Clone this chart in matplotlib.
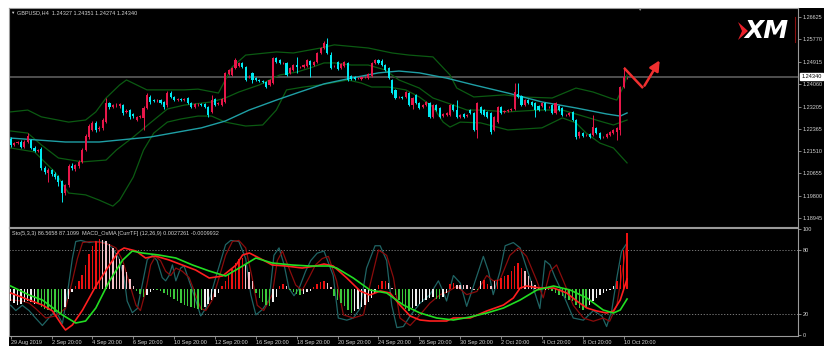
import matplotlib
matplotlib.use("Agg")
import matplotlib.pyplot as plt
from matplotlib.patches import Rectangle, Polygon
from matplotlib.transforms import blended_transform_factory
import numpy as np

# ---------------- data ----------------
OPEN = [1.2197,1.2174,1.2181,1.2185,1.2166,1.2185,1.2193,1.2162,1.2151,1.2158,
        1.2086,1.2067,1.2078,1.2063,1.2055,1.2036,1.1990,1.2021,1.2093,1.2082,
        1.2093,1.2109,1.2154,1.2204,1.2231,1.2258,1.2235,1.2239,1.2261,1.2334,
        1.2319,1.2326,1.2323,1.2326,1.2300,1.2307,1.2292,1.2269,1.2281,1.2277,
        1.2315,1.2357,1.2345,1.2345,1.2345,1.2338,1.2326,1.2372,1.2357,1.2345,
        1.2349,1.2345,1.2353,1.2334,1.2319,1.2330,1.2330,1.2330,1.2319,1.2300,
        1.2349,1.2330,1.2326,1.2338,1.2445,1.2441,1.2468,1.2475,1.2487,1.2471,
        1.2437,1.2449,1.2429,1.2422,1.2418,1.2414,1.2403,1.2410,1.2506,1.2498,
        1.2487,1.2487,1.2449,1.2460,1.2479,1.2471,1.2471,1.2475,1.2494,1.2479,
        1.2491,1.2525,1.2544,1.2559,1.2517,1.2475,1.2491,1.2468,1.2475,1.2487,
        1.2437,1.2433,1.2429,1.2426,1.2433,1.2429,1.2437,1.2487,1.2498,1.2494,
        1.2479,1.2468,1.2422,1.2384,1.2357,1.2357,1.2357,1.2372,1.2326,1.2365,
        1.2334,1.2319,1.2326,1.2334,1.2281,1.2326,1.2315,1.2284,1.2288,1.2288,
        1.2326,1.2307,1.2281,1.2292,1.2284,1.2307,1.2296,1.2231,1.2319,1.2307,
        1.2300,1.2296,1.2231,1.2261,1.2319,1.2300,1.2303,1.2307,1.2311,1.2368,
        1.2361,1.2326,1.2345,1.2338,1.2334,1.2323,1.2323,1.2334,1.2319,1.2326,
        1.2296,1.2323,1.2315,1.2288,1.2288,1.2300,1.2269,1.2208,1.2219,1.2212,
        1.2216,1.2212,1.2239,1.2219,1.2204,1.2204,1.2212,1.2219,1.2223,1.2231,
        1.2395,1.24327]
CLOSE = [1.2174,1.2181,1.2185,1.2166,1.2185,1.2208,1.2162,1.2151,1.2154,1.2086,
         1.2070,1.2078,1.2063,1.2051,1.2032,1.1990,1.2021,1.2093,1.2086,1.2097,
         1.2109,1.2154,1.2208,1.2246,1.2258,1.2231,1.2239,1.2269,1.2334,1.2319,
         1.2326,1.2326,1.2330,1.2296,1.2303,1.2281,1.2284,1.2281,1.2284,1.2315,
         1.2365,1.2338,1.2342,1.2345,1.2334,1.2319,1.2372,1.2357,1.2345,1.2349,
         1.2345,1.2349,1.2334,1.2319,1.2330,1.2330,1.2326,1.2319,1.2288,1.2345,
         1.2326,1.2334,1.2349,1.2449,1.2460,1.2468,1.2498,1.2487,1.2471,1.2422,
         1.2437,1.2422,1.2422,1.2418,1.2414,1.2395,1.2422,1.2506,1.2491,1.2487,
         1.2487,1.2441,1.2468,1.2479,1.2471,1.2471,1.2479,1.2498,1.2479,1.2491,
         1.2525,1.2544,1.2563,1.2525,1.2468,1.2475,1.2464,1.2483,1.2491,1.2422,
         1.2426,1.2426,1.2429,1.2433,1.2433,1.2445,1.2487,1.2498,1.2487,1.2479,
         1.2460,1.2429,1.2372,1.2353,1.2357,1.2353,1.2376,1.2326,1.2353,1.2334,
         1.2315,1.2326,1.2338,1.2281,1.2326,1.2307,1.2281,1.2292,1.2296,1.2326,
         1.2307,1.2281,1.2288,1.2281,1.2288,1.2296,1.2231,1.2334,1.2296,1.2288,
         1.2281,1.2223,1.2281,1.2319,1.2296,1.2303,1.2307,1.2311,1.2376,1.2357,
         1.2326,1.2345,1.2334,1.2326,1.2307,1.2307,1.2334,1.2307,1.2319,1.2296,
         1.2334,1.2307,1.2288,1.2288,1.2296,1.2269,1.2204,1.2223,1.2208,1.2212,
         1.2204,1.2242,1.2219,1.2200,1.2204,1.2216,1.2223,1.2231,1.2239,1.2395,
         1.2433,1.24340]
HIGH = [1.2204,1.2185,1.2189,1.2193,1.2193,1.2219,1.2197,1.2170,1.2158,1.2166,
        1.2093,1.2086,1.2082,1.2070,1.2059,1.2040,1.2025,1.2101,1.2105,1.2101,
        1.2116,1.2162,1.2216,1.2254,1.2265,1.2265,1.2246,1.2277,1.2353,1.2338,
        1.2330,1.2334,1.2334,1.2330,1.2311,1.2311,1.2296,1.2284,1.2288,1.2323,
        1.2372,1.2365,1.2349,1.2349,1.2349,1.2342,1.2380,1.2380,1.2361,1.2353,
        1.2353,1.2353,1.2357,1.2338,1.2334,1.2334,1.2334,1.2334,1.2323,1.2365,
        1.2353,1.2338,1.2353,1.2452,1.2464,1.2471,1.2506,1.2491,1.2491,1.2475,
        1.2441,1.2452,1.2433,1.2426,1.2422,1.2418,1.2426,1.2510,1.2510,1.2502,
        1.2491,1.2491,1.2471,1.2483,1.2510,1.2475,1.2483,1.2502,1.2498,1.2494,
        1.2529,1.2548,1.2571,1.2582,1.2529,1.2479,1.2494,1.2487,1.2494,1.2491,
        1.2441,1.2437,1.2433,1.2437,1.2437,1.2449,1.2491,1.2502,1.2502,1.2502,
        1.2483,1.2471,1.2426,1.2387,1.2361,1.2361,1.2380,1.2376,1.2357,1.2368,
        1.2338,1.2330,1.2342,1.2338,1.2330,1.2330,1.2319,1.2296,1.2300,1.2330,
        1.2330,1.2345,1.2292,1.2296,1.2292,1.2311,1.2300,1.2338,1.2323,1.2311,
        1.2303,1.2300,1.2284,1.2323,1.2323,1.2307,1.2311,1.2315,1.2410,1.2410,
        1.2365,1.2349,1.2349,1.2342,1.2338,1.2326,1.2338,1.2338,1.2323,1.2330,
        1.2338,1.2326,1.2319,1.2292,1.2300,1.2303,1.2273,1.2227,1.2223,1.2216,
        1.2219,1.2288,1.2242,1.2223,1.2208,1.2219,1.2227,1.2235,1.2242,1.2399,
        1.2471,1.24351]
LOW = [1.2166,1.2170,1.2177,1.2162,1.2162,1.2181,1.2158,1.2147,1.2147,1.2078,
       1.2063,1.2032,1.2055,1.2044,1.2017,1.1956,1.1983,1.2013,1.2078,1.2074,
       1.2086,1.2105,1.2151,1.2197,1.2227,1.2223,1.2227,1.2231,1.2258,1.2311,
       1.2315,1.2319,1.2315,1.2288,1.2296,1.2273,1.2277,1.2265,1.2277,1.2231,
       1.2311,1.2330,1.2338,1.2338,1.2330,1.2311,1.2319,1.2353,1.2342,1.2342,
       1.2342,1.2342,1.2330,1.2315,1.2315,1.2323,1.2323,1.2315,1.2281,1.2296,
       1.2323,1.2326,1.2323,1.2334,1.2441,1.2437,1.2464,1.2471,1.2468,1.2418,
       1.2429,1.2410,1.2418,1.2414,1.2410,1.2391,1.2399,1.2407,1.2487,1.2483,
       1.2483,1.2437,1.2445,1.2456,1.2449,1.2468,1.2468,1.2471,1.2433,1.2475,
       1.2487,1.2521,1.2540,1.2521,1.2464,1.2471,1.2460,1.2464,1.2471,1.2418,
       1.2422,1.2422,1.2426,1.2422,1.2429,1.2426,1.2433,1.2483,1.2483,1.2475,
       1.2456,1.2426,1.2368,1.2349,1.2353,1.2349,1.2353,1.2323,1.2311,1.2330,
       1.2311,1.2315,1.2323,1.2277,1.2277,1.2303,1.2277,1.2281,1.2284,1.2284,
       1.2303,1.2277,1.2277,1.2277,1.2281,1.2292,1.2227,1.2200,1.2292,1.2284,
       1.2277,1.2216,1.2227,1.2258,1.2292,1.2296,1.2300,1.2303,1.2307,1.2353,
       1.2323,1.2323,1.2330,1.2323,1.2281,1.2303,1.2319,1.2303,1.2315,1.2292,
       1.2292,1.2303,1.2284,1.2284,1.2284,1.2265,1.2197,1.2200,1.2204,1.2208,
       1.2200,1.2208,1.2216,1.2197,1.2200,1.2200,1.2208,1.2216,1.2193,1.2212,
       1.2391,1.24274]

# moving average and Bollinger bands (bar, price), sampled along the lines
MA_BAR = [0,16,26,41,56,63,70,78,84,92,100,108,114,120,128,136,146,156,166,175,179,181]
MA_PRICE = [1.2200,1.2185,1.2185,1.2204,1.2239,1.2265,1.2307,1.2345,1.2372,1.2407,1.2429,
            1.2449,1.2456,1.2449,1.2429,1.2403,1.2372,1.2338,1.2315,1.2292,1.2284,1.2296]
BB_UP_BAR = [0,5,9,17,22,25,28,32,34,40,46,51,55,61,65,69,75,78,83,91,95,105,112,117,124,
             129,131,136,145,150,159,166,171,176,178,180,181]
BB_UP_PRICE = [1.2300,1.2307,1.2281,1.2261,1.2269,1.2300,1.2353,1.2403,1.2422,1.2384,1.2384,
               1.2384,1.2387,1.2372,1.2471,1.2517,1.2525,1.2529,1.2525,1.2544,1.2556,1.2544,
               1.2525,1.2517,1.2510,1.2441,1.2391,1.2357,1.2365,1.2357,1.2353,1.2391,1.2376,
               1.2353,1.2345,1.2399,1.2441]
BB_MID_BAR = [0,5,9,14,21,28,31,36,41,46,51,59,63,67,73,79,84,88,92,95,100,105,110,114,120,
              124,130,134,138,146,155,162,167,174,177,181]
BB_MID_PRICE = [1.2227,1.2219,1.2174,1.2124,1.2109,1.2116,1.2154,1.2204,1.2258,1.2311,1.2326,
                1.2338,1.2353,1.2376,1.2403,1.2441,1.2452,1.2468,1.2487,1.2487,1.2479,1.2479,
                1.2460,1.2422,1.2391,1.2353,1.2326,1.2307,1.2307,1.2300,1.2307,1.2307,1.2288,
                1.2261,1.2250,1.2269]
BB_LO_BAR = [0,7,13,17,22,26,30,32,36,39,42,46,50,55,59,63,69,74,78,81,86,91,99,103,106,111,
             116,120,124,127,129,132,138,146,156,162,166,169,173,177,181]
BB_LO_PRICE = [1.2162,1.2147,1.2070,1.1990,1.1983,1.1963,1.1940,1.1963,1.2051,1.2154,1.2219,
               1.2261,1.2273,1.2284,1.2284,1.2261,1.2246,1.2250,1.2307,1.2384,1.2395,1.2403,
               1.2422,1.2410,1.2395,1.2395,1.2384,1.2357,1.2319,1.2261,1.2242,1.2261,1.2258,
               1.2231,1.2239,1.2277,1.2258,1.2219,1.2181,1.2162,1.2105]

PRICE_TICKS = [1.26625,1.25770,1.24915,1.24060,1.23205,1.22365,1.21510,1.20655,1.19800,1.18945]
LAST_PRICE = 1.24340

TIME_BARS = [0,12,24,36,48,60,72,84,96,108,120,132,144,156,168,180]
TIME_LABELS = ["29 Aug 2019","2 Sep 20:00","4 Sep 20:00","6 Sep 20:00","10 Sep 20:00",
               "12 Sep 20:00","16 Sep 20:00","18 Sep 20:00","20 Sep 20:00","24 Sep 20:00",
               "26 Sep 20:00","30 Sep 20:00","2 Oct 20:00","4 Oct 20:00","8 Oct 20:00",
               "10 Oct 20:00"]

# MACD OsMA histogram (one value per bar) and its colour code
OSMA = [-12,-14,-16,-15,-13,-12,-13,-15,-15,-18,-20,-21,-22,-23,-24,-24,-18,-10,-3,3,
        8,14,24,35,43,48,50,49,48,45,41,36,30,24,17,10,3,-2,-5,-8,
        -6,-3,-1,-1,-2,-4,-6,-8,-10,-12,-14,-16,-17,-18,-19,-20,-21,-18,-15,-11,
        -8,-4,3,8,14,20,26,30,31,25,17,8,-4,-9,-13,-16,-17,-13,-8,3,
        5,3,-1,-3,-5,-6,-5,-3,-2,2,5,7,8,6,2,-7,-11,-14,-17,-21,
        -24,-22,-20,-18,-16,-13,-9,-4,4,8,8,6,1,-6,-11,-16,-20,-22,-19,-17,
        -15,-13,-11,-9,-8,-10,-10,-8,-4,5,6,4,4,4,4,2,-1,-1,8,9,
        5,3,8,9,11,13,14,18,23,26,21,18,13,8,4,2,1,-1,-1,-2,
        -4,-6,-7,-9,-11,-12,-16,-19,-21,-19,-16,-12,-9,-6,-4,-2,-1,3,8,24,
        39,56]
OSMA_COL = ("wwwwwwwwggggggggwwwrrrrrrrrppppppppppgggwwwggggggggggggggwwwwwrrrrrrrppp"
            "gggggwwrrpggggwwwrrrrppggggggwwwwwwwrrrppgggggwwwwwwwggwwrrppppppgwrrpprrrrrrrr"
            "pppppppggggggggggggwwwwwwwwrrrrr")
OSMA_UNIT = 0.0001

MACD_BAR = [0,5.4,9.3,12.3,15.2,16.1,18.1,21.1,25,29,31.8,33.3,36.8,39.6,42.5,46.5,50.4,54.3,
            58.3,62.2,66.2,68.1,70.1,74.1,76.8,80.8,85.6,89.5,92,94.7,98.7,102.6,105.5,108.5,
            111.4,114.3,117.3,120.2,123.1,128,130,134.9,139.8,144.7,147.6,149.6,151.5,155.4,
            159.4,163.3,166.2,169.2,172.1,175,177,179,181]
MACD_VAL = [-0.0004,-0.0011,-0.0016,-0.0022,-0.0037,-0.0041,-0.0036,-0.0021,0.0003,0.0024,
            0.0038,0.0041,0.0038,0.0031,0.0033,0.0029,0.0024,0.0019,0.0011,0.0013,0.0024,
            0.0034,0.0036,0.0029,0.0024,0.0023,0.0021,0.0023,0.0025,0.0023,0.0011,-0.0002,
            -0.0006,-0.0002,-0.0004,-0.0016,-0.0027,-0.0031,-0.0032,-0.0032,-0.0029,-0.0029,
            -0.0022,-0.0016,-0.0009,0.0001,0.0003,0.0001,0.0001,-0.0004,-0.0012,-0.0019,
            -0.0022,-0.0024,-0.0022,-0.0011,0.0010]
SIG_BAR = [0,5.4,9.3,15.2,19.1,22,25,29,32.9,35.7,38.6,43.5,48.5,53.4,58.3,63.1,68.1,72,76.8,
           82.7,87.6,93.5,95.7,100.6,105.5,110.4,115.3,120.2,125.1,130,134.9,139.8,144.7,
           149.6,154.5,159.4,164.3,169.2,174,177,179,181]
SIG_VAL = [0.0003,-0.0006,-0.0011,-0.0026,-0.0034,-0.0032,-0.0019,0.0008,0.0029,0.0038,
           0.0036,0.0034,0.0031,0.0024,0.0018,0.0013,0.0023,0.0031,0.0026,0.0024,0.0023,
           0.0023,0.0021,0.0011,-0.0001,-0.0004,-0.0016,-0.0024,-0.0029,-0.0031,-0.0028,
           -0.0024,-0.0019,-0.0011,-0.0001,0.0003,-0.0001,-0.0009,-0.0021,-0.0024,-0.0021,
           -0.0010]

# Stochastic (5,3,3): main and signal lines
STO_MAIN_BAR = [0,1.5,3.4,5.4,7.3,9.3,11.2,13.2,15.2,16.6,18.1,19.1,20.6,23,25,27.9,29.8,31.8,
                33.3,34.2,35.7,37.2,38.6,40.1,41.6,43,44.5,45.5,46.5,47.5,48.5,49.9,50.9,52.4,
                53.8,55.8,57.3,58.7,60.2,61.7,63.1,64.6,67,69,70.5,72,73.9,75.9,77.3,78.8,80.3,
                81.7,83.2,84.7,86.6,88.1,90,92,94.7,96.2,98.7,100.6,102.6,104.5,107,108.5,
                110.4,111.9,113.4,115.3,117.3,120.2,123.1,125.6,127,128,130,132,133.9,135.9,
                138.8,140.3,141.7,143.7,145.2,147.6,149.6,151.5,153.5,155.4,156.9,158.4,159.9,
                162.3,165.2,168.2,171.1,173.6,175,176.5,178,179.4,181]
STO_MAIN = [28,23,28,23,16,9,16,23,11,38,72,88,89,87,88,87,82,72,54,32,21,25,47,71,75,70,54,
            51,56,66,51,63,65,51,38,18,25,37,54,70,85,89,88,72,38,19,24,33,75,82,66,44,37,44,
            60,70,77,79,56,16,14,16,25,63,84,84,70,28,7,8,18,30,38,51,41,32,56,49,27,46,74,60,
            38,60,84,87,82,63,44,25,70,66,54,38,16,14,23,18,8,23,54,79,86.6]
STO_SIG_BAR = [0,3.4,5.4,7.3,10.3,13.2,16.1,18.1,19.6,21.1,23.5,26.5,29,30.9,32.9,34.8,36.8,
               38.1,39.6,41.1,42.5,44,45.5,47,48.5,50.4,52.4,54.3,55.8,57.3,59.2,61.2,63.1,
               65.1,67,69,70.9,72.4,74.3,76.8,78.3,79.8,81.7,83.7,85.6,87.6,89.5,91.5,93.3,
               95.7,97.7,100.6,103.6,105.5,108,110.4,112.4,114.3,117.3,120.2,123.1,126.1,
               128.5,131,133.9,136.9,139.8,141.7,143.7,146.6,149.1,151.5,154.5,156.4,158.4,
               160.3,162.3,165.2,168.2,171.1,174,175.9,178,179.4,181]
STO_SIG = [33,32,30,25,16,18,25,51,72,87,88,87,85,82,70,49,28,23,41,66,74,70,60,56,63,60,54,
           38,25,23,33,54,75,88,89,82,54,28,23,38,70,79,63,47,42,54,66,72,74,51,19,16,19,47,
           80,75,54,16,9,19,30,38,41,46,38,41,56,51,52,75,82,74,51,35,60,66,51,28,16,13,16,
           13,28,56,87.1]

ARROW_BAR = [180.1, 185.7, 191.0]
ARROW_PRICE = [1.2468, 1.2391, 1.2506]

# ---------------- colours / fonts ----------------
BULL = "#e8174a"
BEAR = "#00e8f0"
BAND = "#0b5a12"
MA_C = "#1f9fa5"
TXT = "#d2d2d2"
SPINE = "#9a9a9a"
FONT = ["Liberation Sans", "DejaVu Sans"]
plt.rcParams["font.family"] = FONT
FS = 4.0

W, H = 840, 359
fig = plt.figure(figsize=(W / 100, H / 100), dpi=100)
fig.patch.set_facecolor("white")


def fx(px):
    return px / W


def fy(py):
    return 1 - py / H


fig.add_artist(Rectangle((fx(9), fy(346)), (824 - 9) / W, (346 - 8) / H,
                         transform=fig.transFigure, facecolor="black",
                         edgecolor="none", zorder=0))

n = len(CLOSE)
idx = np.arange(n)
XLIM = (-0.5, 231.2)

# ---------------- main price panel ----------------
ax = fig.add_axes([fx(9), fy(227), (798 - 9) / W, (227 - 8) / H])
ax.set_facecolor("black")
ax.set_xlim(*XLIM)
ax.set_ylim(1.18603, 1.26968)
for s in ax.spines.values():
    s.set_color(SPINE)
    s.set_linewidth(0.8)

ax.axhline(LAST_PRICE, color="#555555", lw=1.3, zorder=1)

ax.plot(BB_UP_BAR, BB_UP_PRICE, color=BAND, lw=0.9, zorder=2)
ax.plot(BB_MID_BAR, BB_MID_PRICE, color=BAND, lw=0.9, zorder=2)
ax.plot(BB_LO_BAR, BB_LO_PRICE, color=BAND, lw=0.9, zorder=2)
ax.plot(MA_BAR, MA_PRICE, color=MA_C, lw=1.0, zorder=2)

O = np.array(OPEN)
C = np.array(CLOSE)
Hh = np.array(HIGH)
L = np.array(LOW)
cols = np.where(C >= O, BULL, BEAR)
ax.vlines(idx, L, Hh, colors=cols, lw=0.7, zorder=3)
body_lo = np.minimum(O, C)
body_h = np.maximum(np.abs(C - O), 0.00008)
ax.bar(idx, body_h, bottom=body_lo, width=0.62, color=cols, linewidth=0, zorder=4)

# drawn arrow annotation
ax.plot(ARROW_BAR[:2], ARROW_PRICE[:2], color="#f03030", lw=1.8, zorder=6,
        solid_capstyle="butt")
ax.annotate("", xy=(ARROW_BAR[2], ARROW_PRICE[2]), xytext=(ARROW_BAR[1], ARROW_PRICE[1]),
            arrowprops=dict(arrowstyle="-|>,head_length=0.6,head_width=0.3",
                            color="#f03030", lw=1.8), zorder=6)

ax.yaxis.tick_right()
ax.set_yticks(PRICE_TICKS)
ax.set_yticklabels([f"{v:.5f}" for v in PRICE_TICKS])
ax.tick_params(axis="y", colors=SPINE, labelcolor=TXT, labelsize=FS, length=2,
               width=0.6, pad=1.5)
ax.set_xticks([])

tr = blended_transform_factory(ax.transAxes, ax.transData)
ax.text(1.004, LAST_PRICE, f"{LAST_PRICE:.5f}", transform=tr, fontsize=FS, color="black",
        va="center", ha="left",
        bbox=dict(boxstyle="square,pad=0.2", facecolor="white", edgecolor="white"))

fig.text(fx(10), fy(13), "\u25bc", fontsize=3.2, color=TXT, va="center", ha="left")
fig.text(fx(17), fy(13), "GBPUSD,H4  1.24327 1.24351 1.24274 1.24340", fontsize=FS,
         color=TXT, va="center", ha="left")
fig.text(fx(639), fy(10), "\u25bc", fontsize=3.2, color="#8a8a8a", va="center", ha="center")

# XM logo
fig.add_artist(Polygon([(fx(738), fy(22)), (fx(748), fy(31)), (fx(738), fy(40)),
                        (fx(742), fy(31))], closed=True, transform=fig.transFigure,
                       facecolor="#e8202a", edgecolor="none"))
fig.text(fx(766), fy(31), "XM", fontsize=18, color="white", fontweight="heavy",
         style="italic", va="center", ha="center", family="DejaVu Sans")
fig.add_artist(plt.Line2D([fx(795), fx(795)], [fy(17), fy(42)], transform=fig.transFigure,
                          color="#8a1010", lw=0.8))

# ---------------- lower indicator panel ----------------
ax2 = fig.add_axes([fx(9), fy(336), (798 - 9) / W, (336 - 228) / H])
ax2.set_facecolor("black")
ax2.set_xlim(*XLIM)
ax2.set_ylim(-0.9, 100.7)
for s in ax2.spines.values():
    s.set_color(SPINE)
    s.set_linewidth(0.8)
ax2.axhline(80, color="#8a8a8a", lw=0.6, ls=(0, (1.5, 2)))
ax2.axhline(20, color="#8a8a8a", lw=0.6, ls=(0, (1.5, 2)))
ax2.plot(STO_MAIN_BAR, STO_MAIN, color="#1f6464", lw=0.9)
ax2.plot(STO_SIG_BAR, STO_SIG, color="#8a0c0c", lw=0.9)

ax3 = ax2.twinx()
ax3.set_ylim(-0.0047, 0.0061)
ax3.set_yticks([])
ax3.yaxis.tick_left()
for s in ax3.spines.values():
    s.set_visible(False)
cmap = {"r": "#ee1111", "p": "#f4c0c8", "g": "#3cc83c", "w": "#f0f0f0"}
hist_cols = [cmap[c] for c in OSMA_COL]
ax3.bar(idx, np.array(OSMA) * OSMA_UNIT, width=0.42, color=hist_cols, linewidth=0)
ax3.plot(MACD_BAR, MACD_VAL, color="#ff1f1f", lw=1.2)
ax3.plot(SIG_BAR, SIG_VAL, color="#22dd22", lw=1.2)

ax2.yaxis.tick_right()
ax2.set_yticks([0, 20, 80, 100])
ax2.set_yticklabels(["0", "20", "80", "100"])
ax2.tick_params(axis="y", left=False, labelleft=False, right=True, labelright=True,
                colors=SPINE, labelcolor=TXT, labelsize=FS, length=2, width=0.6, pad=1.5)
ax2.set_xticks(TIME_BARS)
ax2.set_xticklabels(TIME_LABELS)
ax2.tick_params(axis="x", colors=SPINE, labelcolor=TXT, labelsize=FS, length=2, width=0.6,
                pad=1.0)
for lbl in ax2.get_xticklabels():
    lbl.set_ha("left")

fig.text(fx(12), fy(234), "Sto(5,3,3) 86.5658 87.1099  MACD_OsMA [CurrTF] (12,26,9) "
         "0.0027261 -0.0009932", fontsize=FS, color=TXT, va="center", ha="left")

fig.savefig("out.png", dpi=100, facecolor="white")
